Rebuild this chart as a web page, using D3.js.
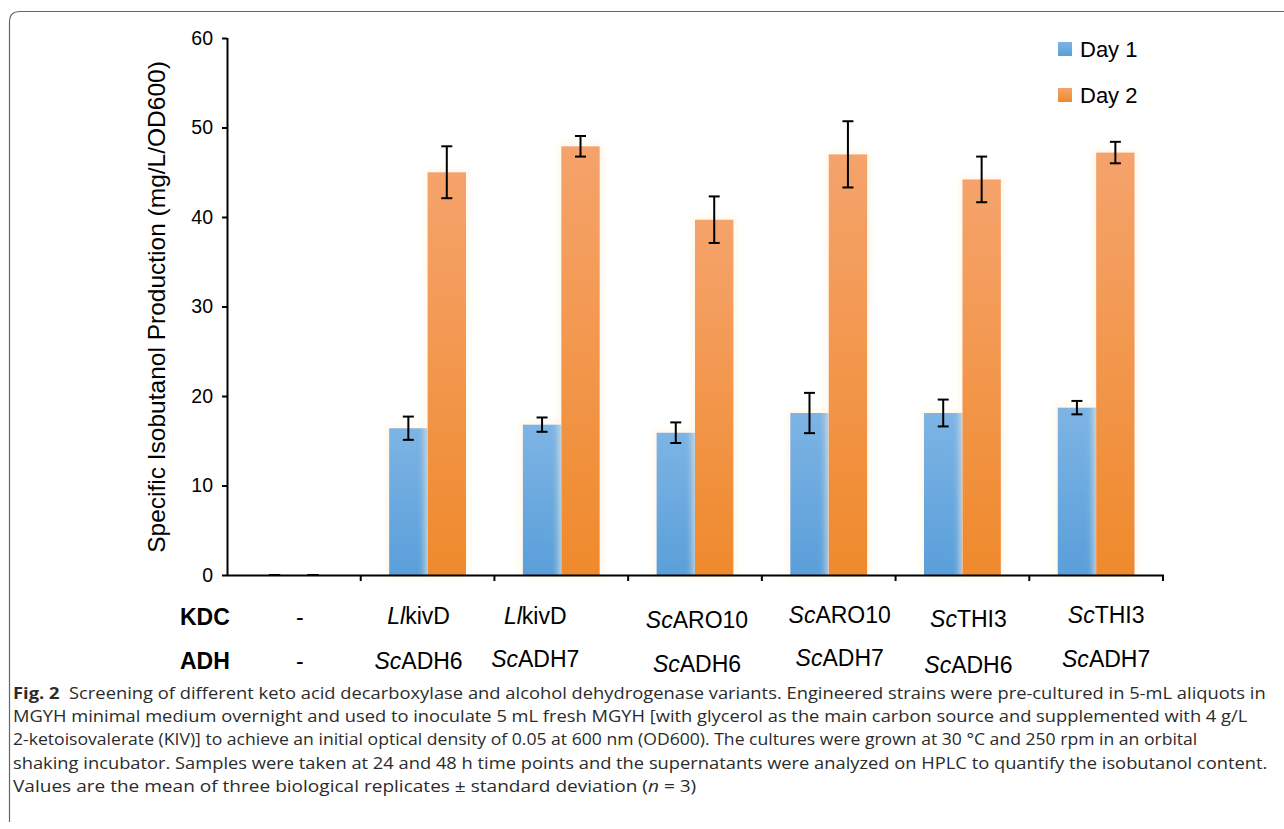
<!DOCTYPE html>
<html>
<head>
<meta charset="utf-8">
<script src="https://cdn.jsdelivr.net/npm/d3@7"></script>
<style>
  html, body { margin: 0; padding: 0; background: #fff; }
  svg { display: block; }
</style>
</head>
<body>
<svg id="fig" width="1284" height="829"></svg>
<script>
// Strain combinations: keto acid decarboxylase (KDC) and alcohol dehydrogenase (ADH)
const kdcPrefix = ['', 'Ll', 'Ll', 'Sc', 'Sc', 'Sc', 'Sc'];
const kdcGene   = ['-', 'kivD', 'kivD', 'ARO10', 'ARO10', 'THI3', 'THI3'];
const adhPrefix = ['', 'Sc', 'Sc', 'Sc', 'Sc', 'Sc', 'Sc'];
const adhGene   = ['-', 'ADH6', 'ADH7', 'ADH6', 'ADH7', 'ADH6', 'ADH7'];

// Specific isobutanol production (mg/L/OD600), mean ± SD (n = 3)
const day1   = [0, 16.4, 16.8, 15.9, 18.1, 18.1, 18.7];
const day1Sd = [0, 1.3, 0.8, 1.15, 2.25, 1.5, 0.75];
const day2   = [0, 45.0, 47.9, 39.7, 47.0, 44.2, 47.2];
const day2Sd = [0, 2.9, 1.15, 2.6, 3.7, 2.55, 1.2];

const seriesNames = ['Day 1', 'Day 2'];
const yTicks = [0, 10, 20, 30, 40, 50, 60];

const captionLines = [
  [{t: 'Fig. 2', w: 'bold'}, {t: '  Screening of different keto acid decarboxylase and alcohol dehydrogenase variants. Engineered strains were pre-cultured in 5-mL aliquots in'}],
  [{t: 'MGYH minimal medium overnight and used to inoculate 5 mL fresh MGYH [with glycerol as the main carbon source and supplemented with 4 g/L'}],
  [{t: '2-ketoisovalerate (KIV)] to achieve an initial optical density of 0.05 at 600 nm (OD600). The cultures were grown at 30 °C and 250 rpm in an orbital'}],
  [{t: 'shaking incubator. Samples were taken at 24 and 48 h time points and the supernatants were analyzed on HPLC to quantify the isobutanol content.'}],
  [{t: 'Values are the mean of three biological replicates ± standard deviation ('}, {t: 'n', s: 'italic'}, {t: ' = 3)'}]
];

// ---- layout ----
const plot = {left: 227, right: 1163, top: 38, bottom: 575};
const labelFont = '"Liberation Sans", Arial, sans-serif';
const labelNudgeX = [6, -9, -26, 2, 11, 6, 10];
const kdcNudgeY = [0, -1, -1, 3, -2, 2, -2];
const adhNudgeY = [0, 0, -2, 3, -3, 4, -2];
const captionWidths = [1253, 1235, 1075, 1255, 690];

const svg = d3.select('#fig');
const defs = svg.append('defs');

function vGrad(id, top, bottom) {
  const g = defs.append('linearGradient').attr('id', id)
    .attr('x1', 0).attr('y1', 0).attr('x2', 0).attr('y2', 1);
  g.append('stop').attr('offset', '0%').attr('stop-color', top);
  g.append('stop').attr('offset', '100%').attr('stop-color', bottom);
}
vGrad('gBlue', '#7db4e4', '#5a9fda');
vGrad('gOrange', '#f5a36c', '#ef8a2c');
const fills = ['url(#gBlue)', 'url(#gOrange)'];

// soft halo around the bars
const halo = defs.append('filter').attr('id', 'halo')
  .attr('x', '-30%').attr('y', '-5%').attr('width', '160%').attr('height', '110%');
halo.append('feMorphology').attr('in', 'SourceAlpha').attr('operator', 'dilate').attr('radius', 3).attr('result', 'd');
halo.append('feGaussianBlur').attr('in', 'd').attr('stdDeviation', 3).attr('result', 'b');
halo.append('feFlood').attr('flood-color', '#fff3dc').attr('flood-opacity', 0.6);
halo.append('feComposite').attr('in2', 'b').attr('operator', 'in').attr('result', 'g');
const hm = halo.append('feMerge');
hm.append('feMergeNode').attr('in', 'g');
hm.append('feMergeNode').attr('in', 'SourceGraphic');

// figure frame
svg.append('path')
  .attr('d', 'M9.5,822 L9.5,22 Q9.5,11.5 20,11.5 L1284,11.5')
  .attr('fill', 'none').attr('stroke', '#666').attr('stroke-width', 1.2);

const idx = d3.range(kdcGene.length);
const x0 = d3.scaleBand().domain(idx).range([plot.left, plot.right]).padding(0);
const groupW = x0.bandwidth() * 0.575;
const x1 = d3.scaleBand().domain(seriesNames).range([0, groupW]).padding(0);
const y = d3.scaleLinear().domain([0, 60]).range([plot.bottom, plot.top]);

const rows = idx.map(i => ({
  i,
  vals: [
    {s: seriesNames[0], v: day1[i], sd: day1Sd[i], k: 0},
    {s: seriesNames[1], v: day2[i], sd: day2Sd[i], k: 1}
  ]
}));

// bars
const groups = svg.append('g').selectAll('g').data(rows).join('g')
  .attr('transform', d => `translate(${x0(d.i) + (x0.bandwidth() - groupW) / 2},0)`);

groups.selectAll('rect').data(d => d.vals).join('rect')
  .attr('x', d => x1(d.s))
  .attr('y', d => y(d.v))
  .attr('width', x1.bandwidth())
  .attr('height', d => y(0) - y(d.v))
  .attr('fill', d => fills[d.k])
  .attr('filter', 'url(#halo)');

// error bars
const cap = 5.5;
groups.selectAll('g.err').data(d => d.vals).join('g').attr('class', 'err')
  .each(function(d) {
    const g = d3.select(this);
    const cx = x1(d.s) + x1.bandwidth() / 2;
    const hi = y(d.v + d.sd), lo = y(d.v - d.sd);
    g.append('line').attr('x1', cx).attr('x2', cx).attr('y1', hi).attr('y2', lo);
    g.append('line').attr('x1', cx - cap).attr('x2', cx + cap).attr('y1', hi).attr('y2', hi);
    g.append('line').attr('x1', cx - cap).attr('x2', cx + cap).attr('y1', lo).attr('y2', lo);
  })
  .selectAll('line').attr('stroke', '#000').attr('stroke-width', 2);

// y axis
const yAxis = svg.append('g')
  .attr('transform', `translate(${plot.left},0)`)
  .call(d3.axisLeft(y).tickValues(yTicks).tickSize(5).tickPadding(9).tickSizeOuter(0));
yAxis.select('.domain').attr('stroke', '#000').attr('stroke-width', 2)
  .attr('d', `M0.5,${plot.top}V${plot.bottom + 1}`);
yAxis.selectAll('.tick line').attr('stroke', '#000').attr('stroke-width', 2);
yAxis.selectAll('.tick text')
  .attr('font-family', labelFont).attr('font-size', 19.5).attr('fill', '#000');

// x axis with boundary ticks between categories
const xAxis = svg.append('g').attr('transform', `translate(0,${plot.bottom})`);
xAxis.append('line')
  .attr('x1', plot.left).attr('x2', plot.right + 1)
  .attr('y1', 0.5).attr('y2', 0.5)
  .attr('stroke', '#000').attr('stroke-width', 2);
xAxis.selectAll('line.tk').data(idx.slice(1).concat([idx.length])).join('line')
  .attr('class', 'tk')
  .attr('x1', i => (i < idx.length ? x0(i) : plot.right))
  .attr('x2', i => (i < idx.length ? x0(i) : plot.right))
  .attr('y1', 0).attr('y2', 6)
  .attr('stroke', '#000').attr('stroke-width', 2);

// y title
svg.append('text')
  .attr('transform', 'translate(165,307) rotate(-90)')
  .attr('text-anchor', 'middle')
  .attr('font-family', labelFont).attr('font-size', 24.5).attr('fill', '#000')
  .text('Specific Isobutanol Production (mg/L/OD600)');

// category table below the axis
const table = svg.append('g').attr('font-family', labelFont).attr('font-size', 23).attr('fill', '#000');
table.append('text').attr('x', 180).attr('y', 625).attr('font-weight', 'bold').text('KDC');
table.append('text').attr('x', 180).attr('y', 669).attr('font-weight', 'bold').text('ADH');

function geneLabel(yBase, prefixes, genes, nudgeY) {
  table.selectAll(null).data(idx).join('text')
    .attr('x', i => x0(i) + x0.bandwidth() / 2 + labelNudgeX[i])
    .attr('y', i => yBase + nudgeY[i])
    .attr('text-anchor', 'middle')
    .each(function(i) {
      const t = d3.select(this);
      if (prefixes[i]) t.append('tspan').attr('font-style', 'italic').text(prefixes[i]);
      t.append('tspan').text(genes[i]);
    });
}
geneLabel(625, kdcPrefix, kdcGene, kdcNudgeY);
geneLabel(669, adhPrefix, adhGene, adhNudgeY);

// legend
const legend = svg.append('g').attr('font-family', labelFont).attr('font-size', 22);
seriesNames.forEach((name, k) => {
  const ly = 42 + k * 46;
  legend.append('rect').attr('x', 1058).attr('y', ly).attr('width', 14).attr('height', 14)
    .attr('fill', fills[k]);
  legend.append('text').attr('x', 1080).attr('y', ly + 15).attr('fill', '#000').text(name);
});

// caption: set in a regular sans, condensed horizontally towards each line's measure,
// with the condensing kept close to a common factor so glyph shapes stay consistent
const capG = svg.append('g')
  .attr('font-family', '"Open Sans", "Noto Sans", sans-serif')
  .attr('font-size', 16.5).attr('fill', '#2b2b2b');
const capTexts = captionLines.map(parts => {
  const t = capG.append('text').attr('x', 0).attr('y', 0).attr('xml:space', 'preserve');
  parts.forEach(p => {
    t.append('tspan')
      .attr('font-weight', p.w || null)
      .attr('font-style', p.s || null)
      .text(p.t);
  });
  return t;
});
const fits = capTexts.map((t, li) => captionWidths[li] / t.node().getComputedTextLength());
const common = d3.median([fits[0], fits[1], fits[3]]);
capTexts.forEach((t, li) => {
  const k = Math.max(common * 0.96, Math.min(common * 1.04, fits[li]));
  t.attr('transform', `translate(13,${699 + li * 23.2}) scale(${k},1)`);
});
</script>
</body>
</html>
